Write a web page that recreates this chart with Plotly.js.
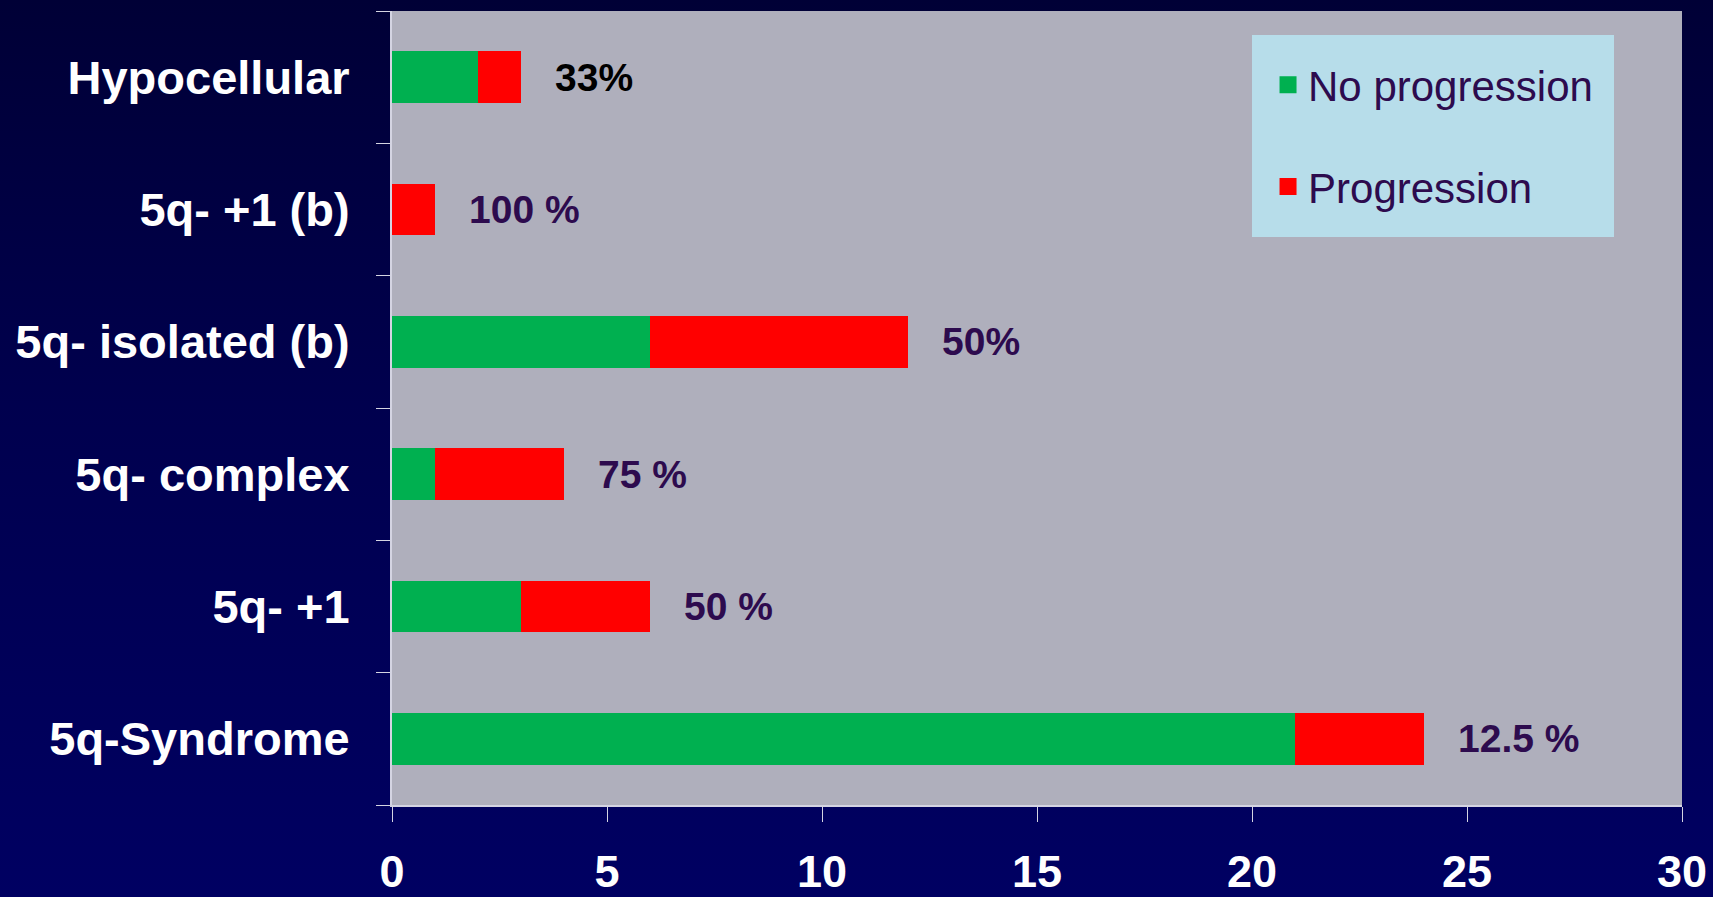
<!DOCTYPE html>
<html>
<head>
<meta charset="utf-8">
<script src="https://cdn.plot.ly/plotly-3.0.1.min.js"></script>
<style>
  html, body { margin: 0; padding: 0; width: 1713px; height: 897px; overflow: hidden;
    background: linear-gradient(to bottom, #000036 0%, #00004e 45%, #000062 100%); }
  #chart { width: 1713px; height: 897px; }
</style>
</head>
<body>
<div id="chart"></div>
<script>
// Categories, bottom to top
const categories = ['5q-Syndrome', '5q- +1', '5q- complex', '5q- isolated (b)', '5q- +1 (b)', 'Hypocellular'];
const noProgression = [21, 3, 1, 6, 0, 2];
const progression = [3, 3, 3, 6, 1, 1];
const percentLabels = ['12.5 %', '50 %', '75 %', '50%', '100 %', '33%'];
const xTicks = [0, 5, 10, 15, 20, 25, 30];
const seriesNames = ['No progression', 'Progression'];
const seriesColors = ['#00B050', '#FF0000'];

const labelFont = 'Liberation Sans, Arial, Helvetica, sans-serif';

const seriesValues = [noProgression, progression];

// data bars (legend drawn by legend-only entries with larger swatches)
const traces = seriesValues.map((vals, k) => ({
  type: 'bar', orientation: 'h', name: seriesNames[k],
  y: categories, x: vals,
  marker: { color: seriesColors[k], line: { width: 0 } },
  legendgroup: 'g' + k, showlegend: false, hoverinfo: 'x+y'
}));
seriesNames.forEach((n, k) => traces.push({
  type: 'bar', orientation: 'h', name: n,
  y: [null], x: [null],
  marker: { color: seriesColors[k], line: { width: 5, color: seriesColors[k] } },
  legendgroup: 'g' + k, showlegend: true, hoverinfo: 'skip'
}));

const annotations = categories.map((c, i) => ({
  x: noProgression[i] + progression[i], y: c,
  xref: 'x', yref: 'y',
  text: percentLabels[i],
  showarrow: false,
  xanchor: 'left', yanchor: 'middle',
  xshift: 32,
  font: { family: labelFont, size: 39, weight: 'bold', color: i === 5 ? '#000000' : '#2D0B4E' }
}));

const layout = {
  width: 1713, height: 897,
  margin: { l: 392, r: 31, t: 11, b: 92, pad: 0 },
  paper_bgcolor: 'rgba(0,0,0,0)',
  plot_bgcolor: '#AFAFBC',
  barmode: 'stack',
  bargap: 0.61,
  showlegend: true,
  legend: {
    x: 0.807, y: 0.8426, xanchor: 'center', yanchor: 'middle',
    bgcolor: '#B7DDEA', bordercolor: '#B7DDEA', borderwidth: 16,
    traceorder: 'grouped', tracegroupgap: 44,
    font: { family: labelFont, size: 42, color: '#2D0B4E' }
  },
  xaxis: {
    range: [0, 30], tickmode: 'array', tickvals: xTicks, ticktext: xTicks.map(String),
    showgrid: false, zeroline: false,
    showline: true, linecolor: '#D4D4E2', linewidth: 2,
    ticks: 'outside', ticklen: 15, tickwidth: 1, tickcolor: '#D4D4E2',
    ticklabelstandoff: 11,
    tickfont: { family: labelFont, size: 45, weight: 'bold', color: '#FFFFFF' },
    fixedrange: true
  },
  yaxis: {
    type: 'category', categoryorder: 'array', categoryarray: categories,
    showgrid: false, zeroline: false,
    showline: true, linecolor: '#D4D4E2', linewidth: 2,
    ticks: 'outside', tickson: 'boundaries', ticklen: 14, tickwidth: 1, tickcolor: '#D4D4E2',
    ticklabelstandoff: 31,
    tickfont: { family: labelFont, size: 47, weight: 'bold', color: '#FFFFFF' },
    fixedrange: true
  },
  annotations: annotations
};

Plotly.newPlot('chart', traces, layout, { displayModeBar: false, staticPlot: true });
</script>
</body>
</html>
